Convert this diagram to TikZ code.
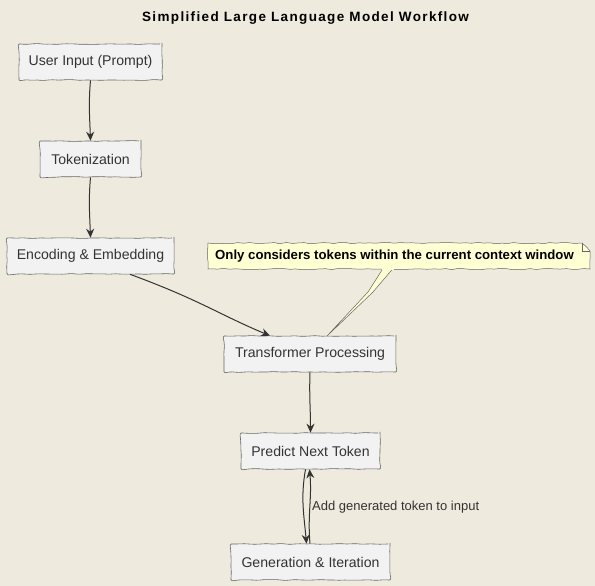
\documentclass[tikz,border=0pt]{standalone}
\usepackage{fontspec}
\setmainfont{Liberation Sans}
\usetikzlibrary{arrows.meta,calc,decorations.pathmorphing}
\definecolor{bgc}{HTML}{EEEADD}
\definecolor{boxfill}{HTML}{F2F2F2}
\definecolor{boxline}{HTML}{666666}
\definecolor{notefill}{HTML}{FFFFD4}
\definecolor{ink}{HTML}{333333}
\pgfmathsetseed{7}
\tikzset{
  stepbox/.style={draw=boxline, fill=boxfill, rounded corners=2pt, line width=0.6pt,
    minimum height=36pt, inner sep=0pt, text=ink, font=\fontsize{14.1}{16}\selectfont,
    decorate, decoration={random steps, segment length=5pt, amplitude=0.45pt}},
  flow/.style={draw=ink, line width=1pt, -{Stealth[length=9pt,width=8pt,inset=3pt]}},
  notebox/.style={fill=notefill, draw=boxline, line width=0.5pt}
}
\begin{document}
\begin{tikzpicture}[x=1pt,y=1pt]
\fill[bgc] (0,0) rectangle (595,-586);
\useasboundingbox (0,0) rectangle (595,-586);

\node[font=\bfseries\fontsize{13.5}{15}\selectfont, text=black] (title) at (305.5,-18) {\addfontfeature{LetterSpace=10}Simplified Large Language Model Workflow};

\node[stepbox, minimum width=143pt] (ui) at (90.5,-62) {User Input (Prompt)};
\node[stepbox, minimum width=101pt] (tok) at (90.5,-159) {Tokenization};
\node[stepbox, minimum width=167pt] (enc) at (90.5,-256) {Encoding \& Embedding};
\node[stepbox, minimum width=172pt] (tp) at (310,-354) {Transformer Processing};
\node[stepbox, minimum width=139pt] (pn) at (310.5,-451) {Predict Next Token};
\node[stepbox, minimum width=159pt] (gi) at (310.5,-562) {Generation \& Iteration};

% note
\path[notebox, decorate, decoration={random steps, segment length=6pt, amplitude=0.7pt}] (208,-243) -- (582,-243) -- (590,-251) -- (590,-269) -- (208,-269) -- cycle;
\draw[boxline, line width=0.5pt] (582,-243) -- (582,-251) -- (590,-251);
\node[font=\bfseries\fontsize{13.2}{15}\selectfont, text=black] (note) at (394.5,-256) {Only considers tokens within the current context window};
\path[notebox] (383,-268.5) -- (368,-292) -- (327,-336) -- (373,-292) -- (393,-268.5);
\fill[notefill] (382,-266.5) rectangle (394,-270);

% connectors
\draw[flow] (ui.south) to[out=-95,in=92] (tok.north);
\draw[flow] (tok.south) to[out=-95,in=92] (enc.north);
\draw[flow] ($(enc.south)+(39.5,0)$) .. controls (200,-300) and (220,-315) .. ($(tp.north)+(-40,0)$);
\draw[flow] (tp.south) to[out=-92,in=90] (pn.north);
\draw[flow] ($(pn.south)+(-5,0)$) to[out=-100,in=95] ($(gi.north)+(-4,0)$);
\draw[flow] ($(gi.north)+(-0.5,0)$) to[out=95,in=-85] ($(pn.south)+(-1,0)$);
\node[anchor=west, text=ink, font=\fontsize{13}{15}\selectfont, inner sep=0pt] (lbl) at (312,-507) {Add generated token to input};
\end{tikzpicture}
\end{document}
